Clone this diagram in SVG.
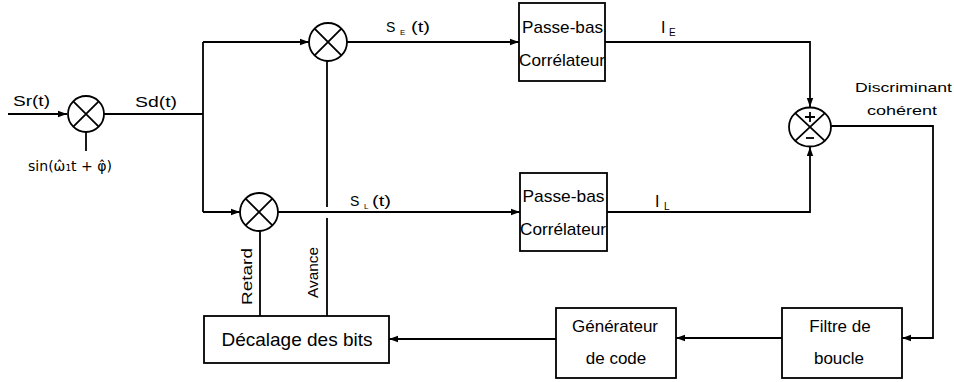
<svg xmlns="http://www.w3.org/2000/svg" width="954" height="382" viewBox="0 0 954 382">
<defs>
<marker id="arr" markerWidth="10" markerHeight="8" refX="9" refY="4" orient="auto" markerUnits="userSpaceOnUse">
<path d="M0,0.8 L9,4 L0,7.2 Z" fill="#000"/>
</marker>
<style>
.ln{fill:none;stroke:#000;stroke-width:1.8}
.box{fill:#fff;stroke:#000;stroke-width:1.8}
.mx{fill:#fff;stroke:#000;stroke-width:1.8}
.t{font-family:"Liberation Sans",Arial,sans-serif;fill:#000}
.m{font-family:"DejaVu Sans",sans-serif;fill:#000}
.bt{font-size:17px;text-anchor:middle}
</style>
</defs>
<rect width="954" height="382" fill="#fff"/>
<g id="connectors">
<line class="ln" x1="8" y1="114" x2="67" y2="114" marker-end="url(#arr)"/>
<line class="ln" x1="86" y1="132" x2="86" y2="151"/>
<polyline class="ln" points="104,114 203,114"/>
<polyline class="ln" points="203,42 203,212"/>
<line class="ln" x1="203" y1="42" x2="309" y2="42" marker-end="url(#arr)"/>
<line class="ln" x1="203" y1="212" x2="240" y2="212" marker-end="url(#arr)"/>
<line class="ln" x1="347" y1="42" x2="519" y2="42" marker-end="url(#arr)"/>
<line class="ln" x1="278" y1="212" x2="520" y2="212" marker-end="url(#arr)"/>
<polyline class="ln" points="605,42 810,42 810,107" marker-end="url(#arr)"/>
<polyline class="ln" points="607,212 810,212 810,147" marker-end="url(#arr)"/>
<polyline class="ln" points="830,126 933,126 933,338 902,338" marker-end="url(#arr)"/>
<line class="ln" x1="782" y1="338" x2="676" y2="338" marker-end="url(#arr)"/>
<line class="ln" x1="556" y1="339" x2="389" y2="339" marker-end="url(#arr)"/>
<line class="ln" x1="260" y1="231" x2="260" y2="316"/>
<line class="ln" x1="327" y1="61" x2="327" y2="207"/>
<line class="ln" x1="327" y1="218" x2="327" y2="316"/>
</g>
<g id="mixer-in">
<circle class="mx" cx="86" cy="114" r="18"/>
<path class="ln" d="M73.3,101.3 L98.7,126.7 M98.7,101.3 L73.3,126.7"/>
</g>
<g id="mixer-early">
<circle class="mx" cx="328" cy="42" r="19"/>
<path class="ln" d="M314.6,28.6 L341.4,55.4 M341.4,28.6 L314.6,55.4"/>
</g>
<g id="mixer-late">
<circle class="mx" cx="259" cy="212" r="19"/>
<path class="ln" d="M245.6,198.6 L272.4,225.4 M272.4,198.6 L245.6,225.4"/>
</g>
<g id="discriminator">
<ellipse class="mx" cx="810" cy="127" rx="21" ry="19.5"/>
<path class="ln" d="M795.2,113.2 L824.8,140.8 M824.8,113.2 L795.2,140.8"/>
<path class="ln" d="M805,117 L815,117 M810,112 L810,122" stroke-width="1.5"/>
<path class="ln" d="M806,138 L814,138" stroke-width="1.5"/>
</g>
<g id="pb-early">
<rect class="box" x="519" y="3" width="86" height="78"/>
<text class="t" x="562.5" y="33" font-size="17" text-anchor="middle" textLength="81" lengthAdjust="spacingAndGlyphs">Passe-bas</text>
<text class="t" x="562" y="66" font-size="17" text-anchor="middle" textLength="86" lengthAdjust="spacingAndGlyphs">Corrélateur</text>
</g>
<g id="pb-late">
<rect class="box" x="520" y="173" width="87" height="78"/>
<text class="t" x="563.5" y="202" font-size="17" text-anchor="middle" textLength="82" lengthAdjust="spacingAndGlyphs">Passe-bas</text>
<text class="t" x="563" y="235" font-size="17" text-anchor="middle" textLength="86" lengthAdjust="spacingAndGlyphs">Corrélateur</text>
</g>
<g id="decalage">
<rect class="box" x="204" y="316" width="185" height="47"/>
<text class="t" x="297" y="346" style="font-size:19px;text-anchor:middle">Décalage des bits</text>
</g>
<g id="generateur">
<rect class="box" x="556" y="308" width="120" height="70"/>
<text class="t bt" x="615" y="332">Générateur</text>
<text class="t bt" x="616" y="364">de code</text>
</g>
<g id="filtre">
<rect class="box" x="782" y="308" width="120" height="70"/>
<text class="t bt" x="840" y="332">Filtre de</text>
<text class="t bt" x="839" y="364">boucle</text>
</g>
<g id="labels">
<text class="t" x="13" y="106" font-size="14" textLength="37" lengthAdjust="spacingAndGlyphs">Sr(t)</text>
<text class="t" x="135" y="107" font-size="14" textLength="42" lengthAdjust="spacingAndGlyphs">Sd(t)</text>
<text class="m" x="28" y="171" font-size="14" textLength="84" lengthAdjust="spacingAndGlyphs">sin(ω̂₁t + φ̂)</text>
<text class="t" x="386" y="32" font-size="14">S</text>
<text class="t" x="400" y="35" font-size="8">E</text>
<text class="t" x="411" y="32" font-size="14" textLength="19" lengthAdjust="spacingAndGlyphs">(t)</text>
<text class="t" x="350" y="206" font-size="14">S</text>
<text class="t" x="364" y="209" font-size="8">L</text>
<text class="t" x="372" y="206" font-size="14" textLength="19" lengthAdjust="spacingAndGlyphs">(t)</text>
<text class="t" x="661" y="33" font-size="16">I</text>
<text class="t" x="669" y="36" font-size="10">E</text>
<text class="t" x="655" y="207" font-size="16">I</text>
<text class="t" x="664" y="210" font-size="10">L</text>
<text class="t" x="855" y="92" font-size="13" textLength="97" lengthAdjust="spacingAndGlyphs">Discriminant</text>
<text class="t" x="867" y="115" font-size="13" textLength="70" lengthAdjust="spacingAndGlyphs">cohérent</text>
<text class="t" transform="translate(252,305) rotate(-90)" font-size="15" textLength="57" lengthAdjust="spacingAndGlyphs">Retard</text>
<text class="t" transform="translate(318,298) rotate(-90)" font-size="14" textLength="51" lengthAdjust="spacingAndGlyphs">Avance</text>
</g>
</svg>
